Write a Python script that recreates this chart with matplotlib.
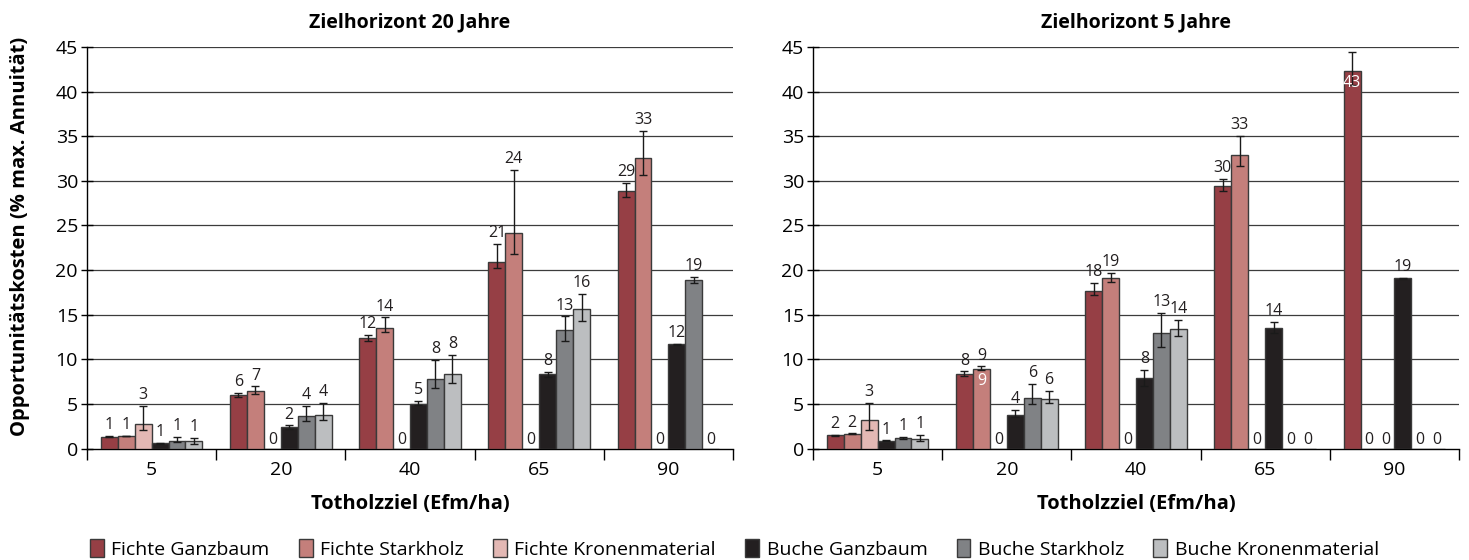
import numpy as np
import matplotlib
matplotlib.use("Agg")
import matplotlib.pyplot as plt
from matplotlib.patches import Patch

plt.rcParams['font.family'] = ['Open Sans', 'DejaVu Sans']

# data
categories = ["5", "20", "40", "65", "90"]
series = ["Fichte Ganzbaum", "Fichte Starkholz", "Fichte Kronenmaterial",
          "Buche Ganzbaum", "Buche Starkholz", "Buche Kronenmaterial"]
colors = ["#963f45", "#c47f7b", "#e3b8b4", "#231f20", "#808285", "#bcbec0"]

# Zielhorizont 20 Jahre (rows = series, cols = categories)
z20_values = [[1.33, 6.0, 12.4, 20.9, 28.9],
              [1.4, 6.5, 13.5, 24.2, 32.6],
              [2.7, 0, 0, 0, 0],
              [0.6, 2.4, 5.0, 8.3, 11.7],
              [0.85, 3.6, 7.8, 13.3, 18.9],
              [0.8, 3.7, 8.4, 15.6, 0]]
z20_err_hi = [[0.05, 0.2, 0.3, 2.0, 0.9],
              [0.05, 0.45, 1.2, 7.0, 3.0],
              [2.1, 0, 0, 0, 0],
              [0.05, 0.2, 0.35, 0.3, 0.05],
              [0.45, 1.2, 2.1, 1.5, 0.3],
              [0.4, 1.4, 2.1, 1.7, 0]]
z20_err_lo = [[0.05, 0.2, 0.3, 0.7, 0.7],
              [0.05, 0.4, 0.4, 2.4, 1.9],
              [0.6, 0, 0, 0, 0],
              [0.05, 0.2, 0.15, 0.3, 0.05],
              [0.15, 0.5, 1.0, 1.2, 0.35],
              [0.3, 0.55, 1.1, 1.3, 0]]
z20_labels = [["1", "6", "12", "21", "29"],
              ["1", "7", "14", "24", "33"],
              ["3", "0", "0", "0", "0"],
              ["1", "2", "5", "8", "12"],
              ["1", "4", "8", "13", "19"],
              ["1", "4", "8", "16", "0"]]
z20_inside = []

# Zielhorizont 5 Jahre
z5_values = [[1.5, 8.35, 17.7, 29.4, 42.3],
             [1.65, 8.95, 19.1, 32.9, 0],
             [3.2, 0, 0, 0, 0],
             [0.85, 3.75, 7.9, 13.5, 19.1],
             [1.18, 5.7, 12.9, 0, 0],
             [1.11, 5.6, 13.4, 0, 0]]
z5_err_hi = [[0.05, 0.3, 0.9, 0.8, 2.1],
             [0.05, 0.25, 0.6, 2.1, 0],
             [1.9, 0, 0, 0, 0],
             [0.05, 0.6, 0.95, 0.7, 0.05],
             [0.15, 1.5, 2.3, 0, 0],
             [0.45, 0.85, 1.0, 0, 0]]
z5_err_lo = [[0.05, 0.2, 0.5, 0.5, 1.6],
             [0.05, 0.2, 0.4, 1.2, 0],
             [1.1, 0, 0, 0, 0],
             [0.05, 0.25, 0.9, 0.5, 0.05],
             [0.1, 0.7, 1.5, 0, 0],
             [0.3, 0.55, 0.8, 0, 0]]
z5_labels = [["2", "8", "18", "30", ""],
             ["2", "9", "19", "33", "0"],
             ["3", "0", "0", "0", "0"],
             ["1", "4", "8", "14", "19"],
             ["1", "6", "13", "0", "0"],
             ["1", "6", "14", "0", "0"]]
# white labels drawn inside bars: (series index, category index, text)
z5_inside = [(1, 1, "9"), (0, 4, "43")]

W, H = 1469, 560
fig = plt.figure(figsize=(W / 100, H / 100), dpi=100)
ax1 = fig.add_axes([87 / W, 1 - 448.5 / H, 646 / W, 401.5 / H])
ax2 = fig.add_axes([813 / W, 1 - 448.5 / H, 646 / W, 401.5 / H])

bw = 0.131
x = np.arange(len(categories))
lab_fs = 11.5


def draw_panel(ax, title, vals, ehi, elo, labels, inside):
    for y in range(5, 50, 5):
        ax.axhline(y, color="#3c3c3c", lw=0.9, zorder=1)
    for i in range(len(series)):
        pos = x + (i - 2.5) * bw
        v = np.array(vals[i])
        ax.bar(pos, v, bw, color=colors[i], edgecolor="#3a3a3a", lw=1.0, zorder=3)
        mask = v > 0
        ax.errorbar(pos[mask], v[mask],
                    yerr=[np.array(elo[i])[mask], np.array(ehi[i])[mask]],
                    fmt="none", ecolor="#1a1a1a", elinewidth=1.0, capsize=3,
                    capthick=1.0, zorder=4)
        for j in range(len(categories)):
            if labels[i][j] == "":
                continue
            top = v[j] + ehi[i][j] if v[j] > 0 else 0
            ax.annotate(labels[i][j], (pos[j], top), xytext=(0, 2 if v[j] > 0 else 0),
                        textcoords="offset points", ha="center", va="bottom",
                        fontsize=lab_fs, color="#231f20", zorder=5)
    for i, j, t in inside:
        ax.annotate(t, (x[j] + (i - 2.5) * bw, vals[i][j]), xytext=(0, -3),
                    textcoords="offset points", ha="center", va="top",
                    fontsize=lab_fs, color="white", zorder=5)

    ax.set_xlim(-0.5, len(categories) - 0.5)
    ax.set_ylim(0, 45)
    ax.set_yticks(range(0, 50, 5))
    ax.tick_params(axis="y", direction="inout", length=9, width=1, labelsize=14, pad=2)
    ax.set_xticks(x)
    ax.set_xticklabels(categories, fontsize=14)
    ax.tick_params(axis="x", which="major", length=0, pad=9)
    ax.set_xticks(np.arange(-0.5, len(categories), 1.0), minor=True)
    ax.tick_params(axis="x", which="minor", direction="out", length=8, width=1)
    for s in ["top", "right"]:
        ax.spines[s].set_visible(False)
    ax.spines["left"].set_linewidth(1.0)
    ax.spines["bottom"].set_linewidth(1.0)
    ax.set_xlabel("Totholzziel (Efm/ha)", fontsize=14.5, fontweight="bold", labelpad=11)
    ax.text(0.5, 1.0 + 25 / 401.5, title, transform=ax.transAxes, ha="center",
            va="center", fontsize=14, fontweight="bold")


draw_panel(ax1, "Zielhorizont 20 Jahre", z20_values, z20_err_hi, z20_err_lo, z20_labels, z20_inside)
draw_panel(ax2, "Zielhorizont 5 Jahre", z5_values, z5_err_hi, z5_err_lo, z5_labels, z5_inside)

ax1.set_ylabel("Opportunitätskosten (% max. Annuität)", fontsize=14.5, fontweight="bold")
ax1.yaxis.set_label_coords(-0.088, 0.527)

handles = [Patch(facecolor=c, edgecolor="#3a3a3a", lw=1.0) for c in colors]
fig.legend(handles, series, loc="center", bbox_to_anchor=(0.5, 1 - 549 / H), ncol=6,
           frameon=False, fontsize=14, handlelength=0.7, handleheight=1.0,
           handletextpad=0.4, columnspacing=1.5)

fig.savefig("out.png", dpi=100)
